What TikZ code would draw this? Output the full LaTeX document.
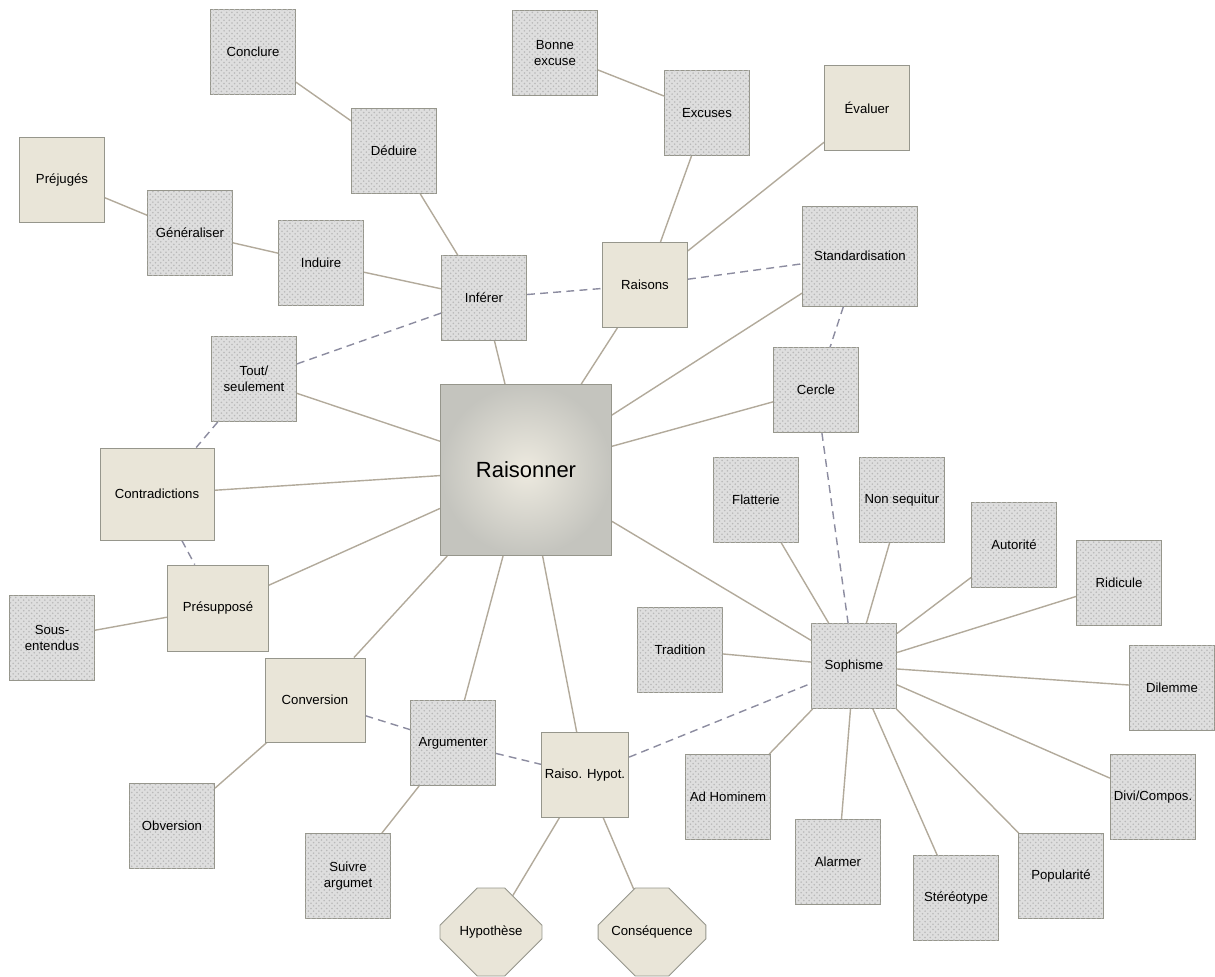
\documentclass[tikz,border=0pt]{standalone}
\usepackage{fontspec}
\setmainfont{Liberation Sans}
\usetikzlibrary{patterns,shapes.misc,backgrounds}

\definecolor{beige}{RGB}{233,229,216}
\definecolor{dotgray}{RGB}{222,222,222}
\definecolor{dotdark}{RGB}{185,185,185}
\definecolor{boxline}{RGB}{150,150,140}
\definecolor{linkcol}{RGB}{178,170,155}
\definecolor{dashcol}{RGB}{140,140,160}
\definecolor{mainedge}{RGB}{196,196,190}

\tikzset{
  box/.style={draw=boxline, line width=0.5pt, minimum size=1.7cm,
    inner sep=2pt, align=center, font=\fontsize{7.5}{9}\selectfont},
  plainbox/.style={box, fill=beige},
  dotbox/.style={box, fill=dotgray,
    postaction={pattern=crosshatch dots, pattern color=dotdark}},
  octbox/.style={plainbox, chamfered rectangle,
    chamfered rectangle xsep=0.5cm, chamfered rectangle ysep=0.55cm,
    minimum width=2.04cm, minimum height=1.76cm},
  mainbox/.style={box, minimum size=3.42cm, inner color=beige!80,
    outer color=mainedge, font=\fontsize{12.5}{14}\selectfont},
  link/.style={draw=linkcol, line width=0.8pt},
  dlink/.style={draw=dashcol, line width=0.8pt, dash pattern=on 4.5pt off 3pt},
}

\begin{document}
\begin{tikzpicture}[x=0.02cm, y=-0.02cm]
\useasboundingbox (0,0) rectangle (1215,977);

% inferer / raisons side
\node[dotbox] (conclure) at (253,52) {Conclure};
\node[dotbox] (deduire) at (394,151) {Déduire};
\node[dotbox] (bonne) at (555,53) {Bonne\\excuse};
\node[dotbox] (excuses) at (707,113) {Excuses};
\node[plainbox] (evaluer) at (867,108) {Évaluer};
\node[plainbox] (prejuges) at (62,180) {Préjugés};
\node[dotbox] (generaliser) at (190,233) {Généraliser};
\node[dotbox] (induire) at (321,263) {Induire};
\node[dotbox] (inferer) at (484,298) {Inférer};
\node[plainbox] (raisons) at (645,285) {Raisons};
\node[dotbox, minimum width=2.3cm, minimum height=2cm] (standard) at (860,256) {Standardisation};
\node[dotbox] (tout) at (254,379) {Tout/\\seulement};
\node[dotbox] (cercle) at (816,390) {Cercle};

\node[mainbox] (raisonner) at (526,470) {Raisonner};

% left and bottom
\node[plainbox, minimum width=2.28cm, minimum height=1.84cm] (contra) at (157,494) {Contradictions};
\node[plainbox, minimum width=2.02cm, minimum height=1.72cm] (presup) at (218,608) {Présupposé};
\node[dotbox] (sous) at (52,638) {Sous-\\entendus};
\node[plainbox, minimum width=2cm, minimum height=1.68cm] (conversion) at (315,700) {Conversion};
\node[dotbox] (obversion) at (172,826) {Obversion};
\node[dotbox] (argumenter) at (453,743) {Argumenter};
\node[dotbox] (suivre) at (348,876) {Suivre\\argumet};
\node[plainbox] (hypot) at (585,775) {Raiso. Hypot.};
\node[octbox] (hypothese) at (491,932) {Hypothèse};
\node[octbox] (consequence) at (652,932) {Conséquence};

% sophismes
\node[dotbox] (sophisme) at (854,666) {Sophisme};
\node[dotbox] (flatterie) at (756,500) {Flatterie};
\node[dotbox] (nonseq) at (902,500) {Non sequitur};
\node[dotbox] (autorite) at (1014,545) {Autorité};
\node[dotbox] (ridicule) at (1119,583) {Ridicule};
\node[dotbox] (tradition) at (680,650) {Tradition};
\node[dotbox] (dilemme) at (1172,688) {Dilemme};
\node[dotbox] (adhominem) at (728,797) {Ad Hominem};
\node[dotbox] (divi) at (1153,797) {Divi/Compos.};
\node[dotbox] (alarmer) at (838,862) {Alarmer};
\node[dotbox] (popularite) at (1061,876) {Popularité};
\node[dotbox] (stereo) at (956,898) {Stéréotype};

\begin{scope}[on background layer]
\draw[link] (conclure) -- (deduire) -- (inferer);
\draw[link] (prejuges) -- (generaliser) -- (induire) -- (inferer) -- (raisonner);
\draw[link] (bonne) -- (excuses) -- (raisons) -- (raisonner);
\draw[link] (evaluer) -- (raisons);
\draw[link] (standard) -- (raisonner);
\draw[link] (cercle) -- (raisonner);
\draw[link] (tout) -- (raisonner);
\draw[link] (contra) -- (raisonner);
\draw[link] (sous) -- (presup) -- (raisonner);
\draw[link] (obversion) -- (conversion) -- (raisonner);
\draw[link] (suivre) -- (argumenter) -- (raisonner);
\draw[link] (hypothese) -- (hypot) -- (raisonner);
\draw[link] (consequence) -- (hypot);
\draw[link] (sophisme) -- (raisonner);
\foreach \s in {flatterie,nonseq,autorite,ridicule,tradition,dilemme,
  adhominem,divi,alarmer,popularite,stereo}
  \draw[link] (sophisme) -- (\s);

\draw[dlink] (inferer) -- (raisons) -- (standard) -- (cercle) -- (sophisme);
\draw[dlink] (inferer) -- (tout) -- (contra) -- (presup);
\draw[dlink] (conversion) -- (argumenter) -- (hypot) -- (sophisme);
\end{scope}

\end{tikzpicture}
\end{document}
